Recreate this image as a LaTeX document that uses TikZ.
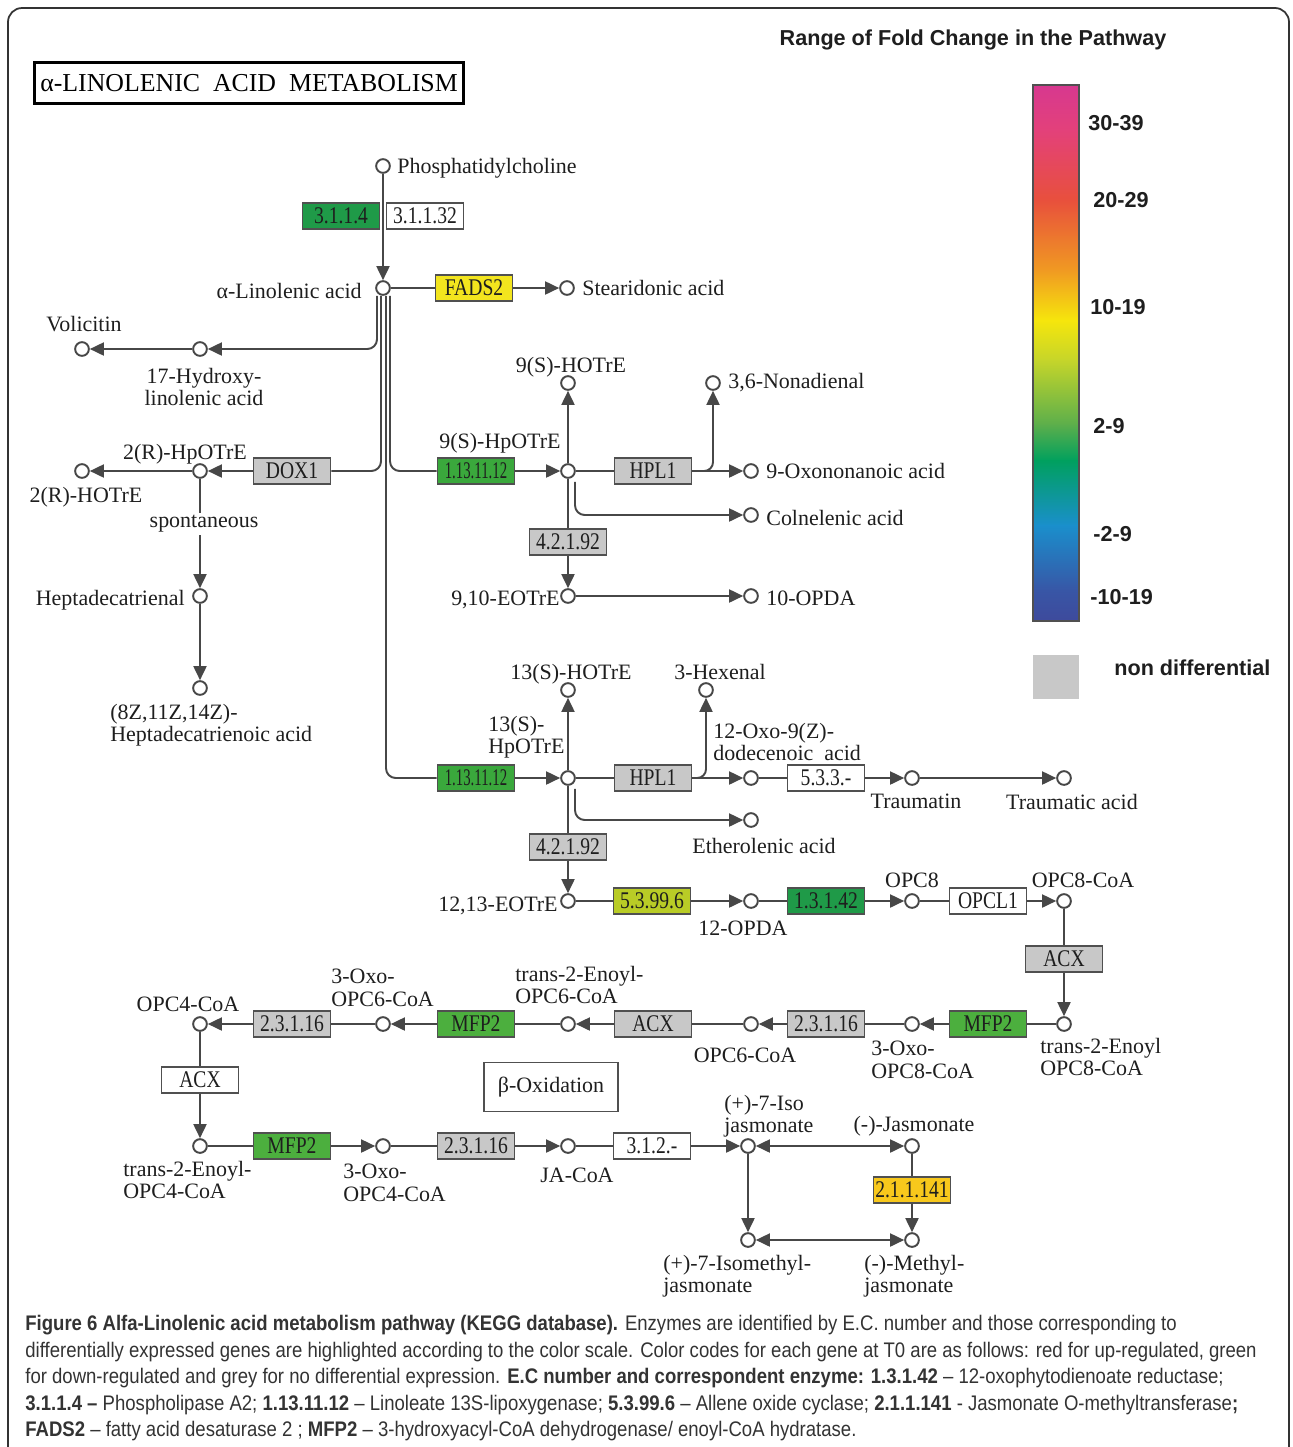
\documentclass[tikz,border=0pt]{standalone}
\usepackage{fontspec}
\setmainfont{Liberation Serif}
\newfontfamily\boxfnt[FakeStretch=0.82]{Liberation Serif}
\newfontfamily\tightfnt[FakeStretch=0.62]{Liberation Serif}
\newfontfamily\legfnt{Liberation Sans}
\newfontfamily\capfnt[FakeStretch=0.88]{Liberation Sans}
\usepackage{tikz}
\usetikzlibrary{arrows.meta,calc,positioning}
\tikzset{
  >={Triangle[length=8pt,width=7.4pt]}
}
\definecolor{lineclr}{HTML}{474747}
\definecolor{boxclr}{HTML}{505050}
\definecolor{txtclr}{HTML}{1E1E1E}
\definecolor{capclr}{HTML}{333333}
\definecolor{greyfill}{HTML}{C8C8C8}
\definecolor{darkgrn}{HTML}{1F9A48}
\definecolor{loxgrn}{HTML}{3AA83C}
\definecolor{mfpgrn}{HTML}{4CAF3E}
\definecolor{aocylw}{HTML}{B9CC26}
\definecolor{fadylw}{HTML}{F3E51E}
\definecolor{jmtylw}{HTML}{F8C81C}
\newcommand\labsize{\fontsize{12.5}{12.7}\selectfont}

\begin{document}
\begin{tikzpicture}[x=0.02cm,y=-0.02cm,
    cpd/.style={circle,draw=lineclr,fill=white,line width=1.1pt,minimum size=7.8pt,inner sep=0pt},
    enz/.style={rectangle,draw=boxclr,line width=0.9pt,minimum width=44pt,minimum height=14.6pt,inner sep=0pt,text=txtclr,font=\boxfnt\fontsize{13.6}{13.6}\selectfont},
    nodiff/.style={enz,fill=greyfill},
    lbl/.style={inner sep=0pt,align=left,text=txtclr,font=\labsize},
    rxn/.style={draw=lineclr,line width=1.1pt},
    legtxt/.style={inner sep=0pt,anchor=west,text=txtclr,font=\legfnt\bfseries\fontsize{12.3}{12.3}\selectfont}
  ]
    \useasboundingbox (0,0) rectangle (1292,1447);
    \draw[capclr,line width=1pt,rounded corners=8pt] (8,1480) -- (8,8) -- (1289,8) -- (1289,1480);

    % title and legend
    \node (TITLE) at (249,83) [draw=black,line width=1.8pt,minimum width=244pt,minimum height=23.5pt,inner sep=0pt,font=\fontsize{14.7}{14.7}\selectfont] {α-LINOLENIC\ \ ACID\ \ METABOLISM};
    \node (LEGHEAD) at (973,40) [legtxt,anchor=center] {Range of Fold Change in the Pathway};
    \shade[top color={rgb,255:red,215;green,56;blue,143},bottom color={rgb,255:red,227;green,65;blue,122}] (1033,85) rectangle (1079,131);
    \shade[top color={rgb,255:red,227;green,65;blue,122},bottom color={rgb,255:red,232;green,80;blue,60}] (1033,130) rectangle (1079,201);
    \shade[top color={rgb,255:red,232;green,80;blue,60},bottom color={rgb,255:red,240;green,154;blue,34}] (1033,200) rectangle (1079,271);
    \shade[top color={rgb,255:red,240;green,154;blue,34},bottom color={rgb,255:red,246;green,230;blue,12}] (1033,270) rectangle (1079,321);
    \shade[top color={rgb,255:red,246;green,230;blue,12},bottom color={rgb,255:red,197;green,213;blue,42}] (1033,320) rectangle (1079,361);
    \shade[top color={rgb,255:red,197;green,213;blue,42},bottom color={rgb,255:red,90;green,174;blue,76}] (1033,360) rectangle (1079,426);
    \shade[top color={rgb,255:red,90;green,174;blue,76},bottom color={rgb,255:red,0;green,160;blue,94}] (1033,425) rectangle (1079,461);
    \shade[top color={rgb,255:red,0;green,160;blue,94},bottom color={rgb,255:red,26;green,143;blue,204}] (1033,460) rectangle (1079,526);
    \shade[top color={rgb,255:red,26;green,143;blue,204},bottom color={rgb,255:red,56;green,86;blue,166}] (1033,525) rectangle (1079,591);
    \shade[top color={rgb,255:red,56;green,86;blue,166},bottom color={rgb,255:red,62;green,74;blue,156}] (1033,590) rectangle (1079,621);
    \draw[boxclr,line width=0.6pt] (1033,85) rectangle (1079,621);
    \node (L1) at (1088,123) [legtxt] {30-39};
    \node (L2) at (1093,200) [legtxt] {20-29};
    \node (L3) at (1090,307) [legtxt] {10-19};
    \node (L4) at (1093,426) [legtxt] {2-9};
    \node (L5) at (1093,534) [legtxt] {-2-9};
    \node (L6) at (1090,597) [legtxt] {-10-19};
    \fill[greyfill] (1033,655) rectangle (1079,699);
    \node (L7) at (1114,668) [legtxt] {non differential};

    % compounds
    \node (PC) at (383,166) [cpd] {};
    \node (ALA) at (383,288) [cpd] {};
    \node (SDA) at (567,288) [cpd] {};
    \node (HLA) at (200,349) [cpd] {};
    \node (VOL) at (82,349) [cpd] {};
    \node (RHP) at (200,471) [cpd] {};
    \node (RHO) at (82,471) [cpd] {};
    \node (HDT) at (200,596) [cpd] {};
    \node (HDA) at (200,688) [cpd] {};
    \node (HP9) at (568,471) [cpd] {};
    \node (HO9) at (568,383) [cpd] {};
    \node (NON) at (713,383) [cpd] {};
    \node (OXN) at (751,471) [cpd] {};
    \node (COL) at (751,515) [cpd] {};
    \node (EO9) at (568,596) [cpd] {};
    \node (OPDA10) at (751,596) [cpd] {};
    \node (HP13) at (568,778) [cpd] {};
    \node (HO13) at (568,690) [cpd] {};
    \node (HEX) at (706,690) [cpd] {};
    \node (ODA) at (751,778) [cpd] {};
    \node (TRM) at (912,778) [cpd] {};
    \node (TRA) at (1064,778) [cpd] {};
    \node (ETH) at (751,820) [cpd] {};
    \node (EO13) at (568,901) [cpd] {};
    \node (OPDA12) at (751,901) [cpd] {};
    \node (OPC8) at (912,901) [cpd] {};
    \node (OPC8C) at (1064,901) [cpd] {};
    \node (TE8) at (1064,1024) [cpd] {};
    \node (OX8) at (912,1024) [cpd] {};
    \node (OPC6C) at (751,1024) [cpd] {};
    \node (TE6) at (568,1024) [cpd] {};
    \node (OX6) at (383,1024) [cpd] {};
    \node (OPC4C) at (200,1024) [cpd] {};
    \node (TE4) at (200,1146) [cpd] {};
    \node (OX4) at (383,1146) [cpd] {};
    \node (JAC) at (568,1146) [cpd] {};
    \node (IJA) at (748,1146) [cpd] {};
    \node (JA) at (912,1146) [cpd] {};
    \node (IMJ) at (748,1240) [cpd] {};
    \node (MJ) at (912,1240) [cpd] {};

    % enzymes
    \node (PLA) at (341,216) [enz,fill=darkgrn] {3.1.1.4};
    \node (PLB) at (425,216) [enz,fill=white] {3.1.1.32};
    \node (FAD) at (474,288) [enz,fill=fadylw] {FADS2};
    \node (DOX) at (292,471) [nodiff] {DOX1};
    \node (LOX9) at (476,471) [enz,fill=loxgrn,font=\tightfnt\fontsize{13.6}{13.6}\selectfont] {1.13.11.12};
    \node (HPL9) at (653,471) [nodiff] {HPL1};
    \node (AOS9) at (568,542) [nodiff] {4.2.1.92};
    \node (LOX13) at (476,778) [enz,fill=loxgrn,font=\tightfnt\fontsize{13.6}{13.6}\selectfont] {1.13.11.12};
    \node (HPL13) at (653,778) [nodiff] {HPL1};
    \node (ISO) at (826,778) [enz,fill=white] {5.3.3.-};
    \node (AOS13) at (568,847) [nodiff] {4.2.1.92};
    \node (AOC) at (652,901) [enz,fill=aocylw] {5.3.99.6};
    \node (OPR) at (826,901) [enz,fill=darkgrn] {1.3.1.42};
    \node (OPCL) at (988,901) [enz,fill=white] {OPCL1};
    \node (ACXA) at (1064,959) [nodiff] {ACX};
    \node (MFPA) at (988,1024) [enz,fill=mfpgrn] {MFP2};
    \node (KATA) at (826,1024) [nodiff] {2.3.1.16};
    \node (ACXB) at (653,1024) [nodiff] {ACX};
    \node (MFPB) at (476,1024) [enz,fill=mfpgrn] {MFP2};
    \node (KATB) at (292,1024) [nodiff] {2.3.1.16};
    \node (ACXC) at (200,1080) [enz,fill=white] {ACX};
    \node (MFPC) at (292,1146) [enz,fill=mfpgrn] {MFP2};
    \node (KATC) at (476,1146) [nodiff] {2.3.1.16};
    \node (TES) at (652,1146) [enz,fill=white] {3.1.2.-};
    \node (JMT) at (912,1190) [enz,fill=jmtylw] {2.1.1.141};
    \node (BOX) at (551,1087) [draw=boxclr,line width=0.9pt,minimum width=76pt,minimum height=28pt,inner sep=0pt,text=txtclr,font=\labsize] {β-Oxidation};

    % reactions
    \draw[rxn,->] (PC) -- (ALA);
    \draw[rxn] (ALA) -- (FAD);
    \draw[rxn,->] (FAD) -- (SDA);
    \draw[rxn,->,rounded corners=5.5pt] ($(ALA.south)+(-6,0)$) |- (HLA);
    \draw[rxn,->] (HLA) -- (VOL);
    \draw[rxn,rounded corners=5.5pt] ($(ALA.south)+(-2,0)$) |- (DOX);
    \draw[rxn,->] (DOX) -- (RHP);
    \draw[rxn,->] (RHP) -- (RHO);
    \draw[rxn,->] (RHP) -- (HDT);
    \draw[rxn,->] (HDT) -- (HDA);
    \draw[rxn,rounded corners=5.5pt] ($(ALA.south)+(3,0)$) |- (LOX13);
    \draw[rxn,rounded corners=5.5pt] ($(ALA.south)+(7,0)$) |- (LOX9);
    \draw[rxn,->] (LOX9) -- (HP9);
    \draw[rxn,->] (HP9) -- (HO9);
    \draw[rxn] (HP9) -- (HPL9);
    \draw[rxn,->] (HPL9) -- (OXN);
    \draw[rxn,->,rounded corners=5pt] ($(HPL9.east)+(11,0)$) -| (NON);
    \draw[rxn] (HP9) -- (AOS9);
    \draw[rxn,->] (AOS9) -- (EO9);
    \draw[rxn,->,rounded corners=5.5pt] ($(HP9.south)+(7,3)$) |- (COL);
    \draw[rxn,->] (EO9) -- (OPDA10);
    \draw[rxn,->] (LOX13) -- (HP13);
    \draw[rxn,->] (HP13) -- (HO13);
    \draw[rxn] (HP13) -- (HPL13);
    \draw[rxn,->] (HPL13) -- (ODA);
    \draw[rxn,->,rounded corners=5pt] ($(HPL13.east)+(5,0)$) -| (HEX);
    \draw[rxn] (ODA) -- (ISO);
    \draw[rxn,->] (ISO) -- (TRM);
    \draw[rxn,->] (TRM) -- (TRA);
    \draw[rxn] (HP13) -- (AOS13);
    \draw[rxn,->] (AOS13) -- (EO13);
    \draw[rxn,->,rounded corners=5.5pt] ($(HP13.south)+(7,3)$) |- (ETH);
    \draw[rxn] (EO13) -- (AOC);
    \draw[rxn,->] (AOC) -- (OPDA12);
    \draw[rxn] (OPDA12) -- (OPR);
    \draw[rxn,->] (OPR) -- (OPC8);
    \draw[rxn] (OPC8) -- (OPCL);
    \draw[rxn,->] (OPCL) -- (OPC8C);
    \draw[rxn] (OPC8C) -- (ACXA);
    \draw[rxn,->] (ACXA) -- (TE8);
    \draw[rxn] (TE8) -- (MFPA);
    \draw[rxn,->] (MFPA) -- (OX8);
    \draw[rxn] (OX8) -- (KATA);
    \draw[rxn,->] (KATA) -- (OPC6C);
    \draw[rxn] (OPC6C) -- (ACXB);
    \draw[rxn,->] (ACXB) -- (TE6);
    \draw[rxn] (TE6) -- (MFPB);
    \draw[rxn,->] (MFPB) -- (OX6);
    \draw[rxn] (OX6) -- (KATB);
    \draw[rxn,->] (KATB) -- (OPC4C);
    \draw[rxn] (OPC4C) -- (ACXC);
    \draw[rxn,->] (ACXC) -- (TE4);
    \draw[rxn] (TE4) -- (MFPC);
    \draw[rxn,->] (MFPC) -- (OX4);
    \draw[rxn] (OX4) -- (KATC);
    \draw[rxn,->] (KATC) -- (JAC);
    \draw[rxn] (JAC) -- (TES);
    \draw[rxn,->] (TES) -- (IJA);
    \draw[rxn,<->] (IJA) -- (JA);
    \draw[rxn,->] (IJA) -- (IMJ);
    \draw[rxn] (JA) -- (JMT);
    \draw[rxn,->] (JMT) -- (MJ);
    \draw[rxn,<->] (IMJ) -- (MJ);

    % compound names
    \node (TPC) at (397,173) [lbl,anchor=base west] {Phosphatidylcholine};
    \node (TALA) at (362,298) [lbl,anchor=base east] {α-Linolenic acid};
    \node (TSDA) at (582,295) [lbl,anchor=base west] {Stearidonic acid};
    \node (TVOL) at (84,316) [lbl,anchor=north] {Volicitin};
    \node (THLA) at (204,368) [lbl,anchor=north,align=center] {17-Hydroxy-\\linolenic acid};
    \node (TRHP) at (185,444) [lbl,anchor=north] {2(R)-HpOTrE};
    \node (TRHO) at (86,487) [lbl,anchor=north] {2(R)-HOTrE};
    \node (SPON) at (204,524) [lbl,fill=white,inner sep=1.5pt] {spontaneous};
    \node (THDT) at (185,605) [lbl,anchor=base east] {Heptadecatrienal};
    \node (THDA) at (110,704) [lbl,anchor=north west] {(8Z,11Z,14Z)-\\Heptadecatrienoic acid};
    \node (THP9) at (500,433) [lbl,anchor=north] {9(S)-HpOTrE};
    \node (THO9) at (571,357) [lbl,anchor=north] {9(S)-HOTrE};
    \node (TNON) at (728,388) [lbl,anchor=base west] {3,6-Nonadienal};
    \node (TOXN) at (766,478) [lbl,anchor=base west] {9-Oxononanoic acid};
    \node (TCOL) at (766,525) [lbl,anchor=base west] {Colnelenic acid};
    \node (TEO9) at (560,605) [lbl,anchor=base east] {9,10-EOTrE};
    \node (TOPDA10) at (766,605) [lbl,anchor=base west] {10-OPDA};
    \node (THO13) at (571,664) [lbl,anchor=north] {13(S)-HOTrE};
    \node (THEX) at (720,664) [lbl,anchor=north] {3-Hexenal};
    \node (THP13) at (488,716) [lbl,anchor=north west] {13(S)-\\HpOTrE};
    \node (TODA) at (713,723) [lbl,anchor=north west] {12-Oxo-9(Z)-\\dodecenoic\ \ acid};
    \node (TTRM) at (916,794) [lbl,anchor=north] {Traumatin};
    \node (TTRA) at (1072,794) [lbl,anchor=north] {Traumatic acid};
    \node (TETH) at (764,838) [lbl,anchor=north] {Etherolenic acid};
    \node (TEO13) at (558,911) [lbl,anchor=base east] {12,13-EOTrE};
    \node (TOPDA12) at (743,921) [lbl,anchor=north] {12-OPDA};
    \node (TOPC8) at (912,873) [lbl,anchor=north] {OPC8};
    \node (TOPC8C) at (1083,873) [lbl,anchor=north] {OPC8-CoA};
    \node (TTE8) at (1040,1038) [lbl,anchor=north west] {trans-2-Enoyl\\OPC8-CoA};
    \node (TOX8) at (871,1041) [lbl,anchor=north west] {3-Oxo-\\OPC8-CoA};
    \node (TOPC6C) at (745,1048) [lbl,anchor=north] {OPC6-CoA};
    \node (TTE6) at (515,966) [lbl,anchor=north west] {trans-2-Enoyl-\\OPC6-CoA};
    \node (TOX6) at (331,969) [lbl,anchor=north west] {3-Oxo-\\OPC6-CoA};
    \node (TOPC4C) at (188,997) [lbl,anchor=north] {OPC4-CoA};
    \node (TTE4) at (123,1161) [lbl,anchor=north west] {trans-2-Enoyl-\\OPC4-CoA};
    \node (TOX4) at (343,1164) [lbl,anchor=north west] {3-Oxo-\\OPC4-CoA};
    \node (TJAC) at (577,1168) [lbl,anchor=north] {JA-CoA};
    \node (TIJA) at (724,1095) [lbl,anchor=north west] {(+)-7-Iso\\jasmonate};
    \node (TJA) at (914,1116) [lbl,anchor=north] {(-)-Jasmonate};
    \node (TIMJ) at (663,1255) [lbl,anchor=north west] {(+)-7-Isomethyl-\\jasmonate};
    \node (TMJ) at (864,1255) [lbl,anchor=north west] {(-)-Methyl-\\jasmonate};

    % caption
    \node (CAP) at (25,1315) [anchor=north west,inner sep=0pt,align=left,text=capclr,font=\capfnt\fontsize{12}{15.1}\selectfont] {\textbf{Figure 6 Alfa-Linolenic acid metabolism pathway (KEGG database).} Enzymes are identified by E.C. number and those corresponding to\\
differentially expressed genes are highlighted according to the color scale. Color codes for each gene at T0 are as follows: red for up-regulated, green\\
for down-regulated and grey for no differential expression. \textbf{E.C number and correspondent enzyme: 1.3.1.42} – 12-oxophytodienoate reductase;\\
\textbf{3.1.1.4 –} Phospholipase A2; \textbf{1.13.11.12} – Linoleate 13S-lipoxygenase; \textbf{5.3.99.6} – Allene oxide cyclase; \textbf{2.1.1.141} - Jasmonate O-methyltransferase\textbf{;}\\
\textbf{FADS2} – fatty acid desaturase 2 ; \textbf{MFP2} – 3-hydroxyacyl-CoA dehydrogenase/ enoyl-CoA hydratase.};
\end{tikzpicture}
\end{document}
